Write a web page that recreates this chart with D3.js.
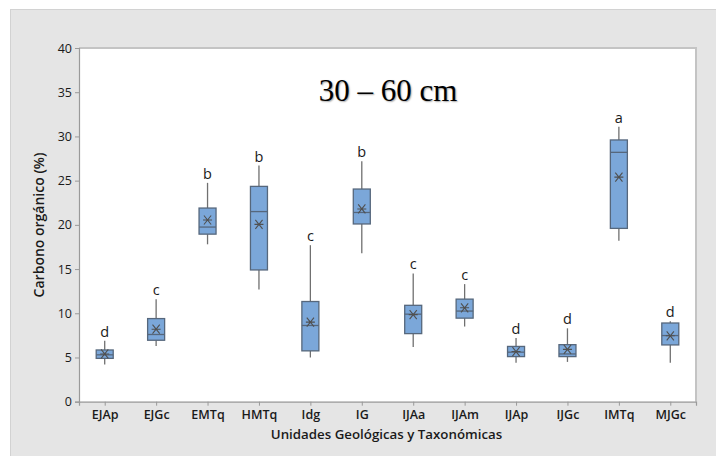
<!DOCTYPE html>
<html><head><meta charset="utf-8">
<script src="https://cdn.jsdelivr.net/npm/d3@7"></script>
<style>
html,body{margin:0;padding:0;background:#fff;}
svg{display:block;}
</style></head>
<body>
<svg id="chart" width="716" height="456"></svg>
<script>
const categories = ["EJAp","EJGc","EMTq","HMTq","Idg","IG","IJAa","IJAm","IJAp","IJGc","IMTq","MJGc"];
const whiskerLow = [4.2, 6.3, 17.8, 12.7, 5.0, 16.8, 6.2, 8.5, 4.4, 4.5, 18.2, 4.4];
const q1         = [4.9, 6.95, 18.95, 14.9, 5.75, 20.1, 7.7, 9.45, 5.1, 5.1, 19.6, 6.42];
const median     = [5.3, 7.6, 19.75, 21.5, 8.62, 21.4, 9.9, 10.25, 5.6, 5.4, 28.2, 7.48];
const q3         = [5.85, 9.4, 21.9, 24.35, 11.33, 24.05, 10.9, 11.6, 6.25, 6.45, 29.6, 8.9];
const whiskerHigh= [6.9, 11.6, 24.75, 26.7, 17.7, 27.2, 14.5, 13.3, 7.2, 8.3, 31.1, 9.1];
const means      = [5.4, 8.2, 20.55, 20.05, 9.0, 21.8, 9.85, 10.62, 5.67, 5.92, 25.4, 7.45];
const groupLetters = ["d","c","b","b","c","b","c","c","d","d","a","d"];
const yTicks = [0,5,10,15,20,25,30,35,40];
const title = "30 – 60 cm";
const xTitle = "Unidades Geológicas y Taxonómicas";
const yTitle = "Carbono orgánico (%)";

const svg = d3.select("#chart");
const W = 716, H = 456;
const plot = {left: 79, right: 696, top: 48, bottom: 401.7};

// outer panel
svg.append("rect").attr("x",0).attr("y",0).attr("width",W).attr("height",H).attr("fill","#ffffff");
svg.append("rect").attr("x",10.5).attr("y",9.5).attr("width",W).attr("height",H)
  .attr("fill","#e5e5e5").attr("stroke","#d2d2d2").attr("stroke-width",1);

// plot area
svg.append("rect").attr("x",plot.left).attr("y",plot.top)
  .attr("width",plot.right-plot.left).attr("height",plot.bottom-plot.top)
  .attr("fill","#ffffff");
svg.append("path").attr("d",`M${plot.left},${plot.top}H${plot.right}V${plot.bottom}`)
  .attr("fill","none").attr("stroke","#c4c4c4").attr("stroke-width",2);

const x = d3.scalePoint().domain(categories).range([plot.left, plot.right]).padding(0.5);
const y = d3.scaleLinear().domain([0,40]).range([plot.bottom, plot.top]);

const font = "'Open Sans', 'Noto Sans', sans-serif";

// y axis
const yAxis = svg.append("g").attr("transform",`translate(${plot.left},0)`)
  .call(d3.axisLeft(y).tickValues(yTicks).tickSize(4).tickPadding(3));
yAxis.select(".domain").attr("stroke","#9a9a9a").attr("stroke-width",1.2);
yAxis.selectAll(".tick line").attr("stroke","#9a9a9a");
yAxis.selectAll(".tick text").attr("font-family",font).attr("font-size",12.5)
  .attr("fill","#1a1a1a").attr("font-weight",500);

// x axis
const xAxis = svg.append("g").attr("transform",`translate(0,${plot.bottom})`)
  .call(d3.axisBottom(x).tickSize(4).tickPadding(4));
xAxis.select(".domain").attr("stroke","#9a9a9a").attr("stroke-width",1.2);
xAxis.selectAll(".tick line").attr("stroke","#9a9a9a");
xAxis.selectAll(".tick text").attr("font-family",font).attr("font-size",12.5)
  .attr("fill","#1a1a1a").attr("font-weight",600);

// boxes
const bw = 17;
const data = categories.map((c,i)=>({c, lo:whiskerLow[i], q1:q1[i], med:median[i], q3:q3[i], hi:whiskerHigh[i], mean:means[i], letter:groupLetters[i]}));
const g = svg.append("g");
const boxes = g.selectAll("g.box").data(data).enter().append("g").attr("class","box");

boxes.append("line").attr("x1",d=>x(d.c)).attr("x2",d=>x(d.c))
  .attr("y1",d=>y(d.q3)).attr("y2",d=>y(d.hi)).attr("stroke","#707070").attr("stroke-width",1.3);
boxes.append("line").attr("x1",d=>x(d.c)).attr("x2",d=>x(d.c))
  .attr("y1",d=>y(d.q1)).attr("y2",d=>y(d.lo)).attr("stroke","#707070").attr("stroke-width",1.3);
boxes.append("rect").attr("x",d=>x(d.c)-bw/2).attr("width",bw)
  .attr("y",d=>y(d.q3)).attr("height",d=>y(d.q1)-y(d.q3))
  .attr("fill","#7ba7d9").attr("stroke","#56677c").attr("stroke-width",1.3);
boxes.append("line").attr("x1",d=>x(d.c)-bw/2).attr("x2",d=>x(d.c)+bw/2)
  .attr("y1",d=>y(d.med)).attr("y2",d=>y(d.med)).attr("stroke","#56677c").attr("stroke-width",1.3);

// mean symbol (asterisk-like)
const ms = 4.5;
boxes.append("path").attr("d",d=>{
  const cx=x(d.c), cy=y(d.mean);
  return `M${cx-ms},${cy}H${cx+ms}M${cx-ms*0.8},${cy-ms}L${cx+ms*0.8},${cy+ms}M${cx-ms*0.8},${cy+ms}L${cx+ms*0.8},${cy-ms}`;
}).attr("stroke","#505050").attr("stroke-width",1.1).attr("fill","none");

// group letters
boxes.append("text").attr("x",d=>x(d.c)).attr("y",d=>y(d.hi)-4)
  .attr("text-anchor","middle").attr("font-family",font).attr("font-size",14.5)
  .attr("fill","#1a1a1a").text(d=>d.letter);

// title
svg.append("text").attr("x",388).attr("y",101).attr("text-anchor","middle")
  .attr("font-family","'Liberation Serif','Times New Roman',serif").attr("font-size",31)
  .attr("fill","#000").style("text-shadow","1px 1px 1.5px rgba(0,0,0,0.35)").text(title);

// axis titles
svg.append("text").attr("x",(plot.left+plot.right)/2 - 1).attr("y",439).attr("text-anchor","middle")
  .attr("font-family",font).attr("font-size",13.3).attr("font-weight",600)
  .attr("fill","#1a1a1a").text(xTitle);
svg.append("text").attr("transform",`translate(44,225) rotate(-90)`).attr("text-anchor","middle")
  .attr("font-family",font).attr("font-size",14).attr("font-weight",600)
  .attr("fill","#1a1a1a").text(yTitle);
</script>
</body></html>
